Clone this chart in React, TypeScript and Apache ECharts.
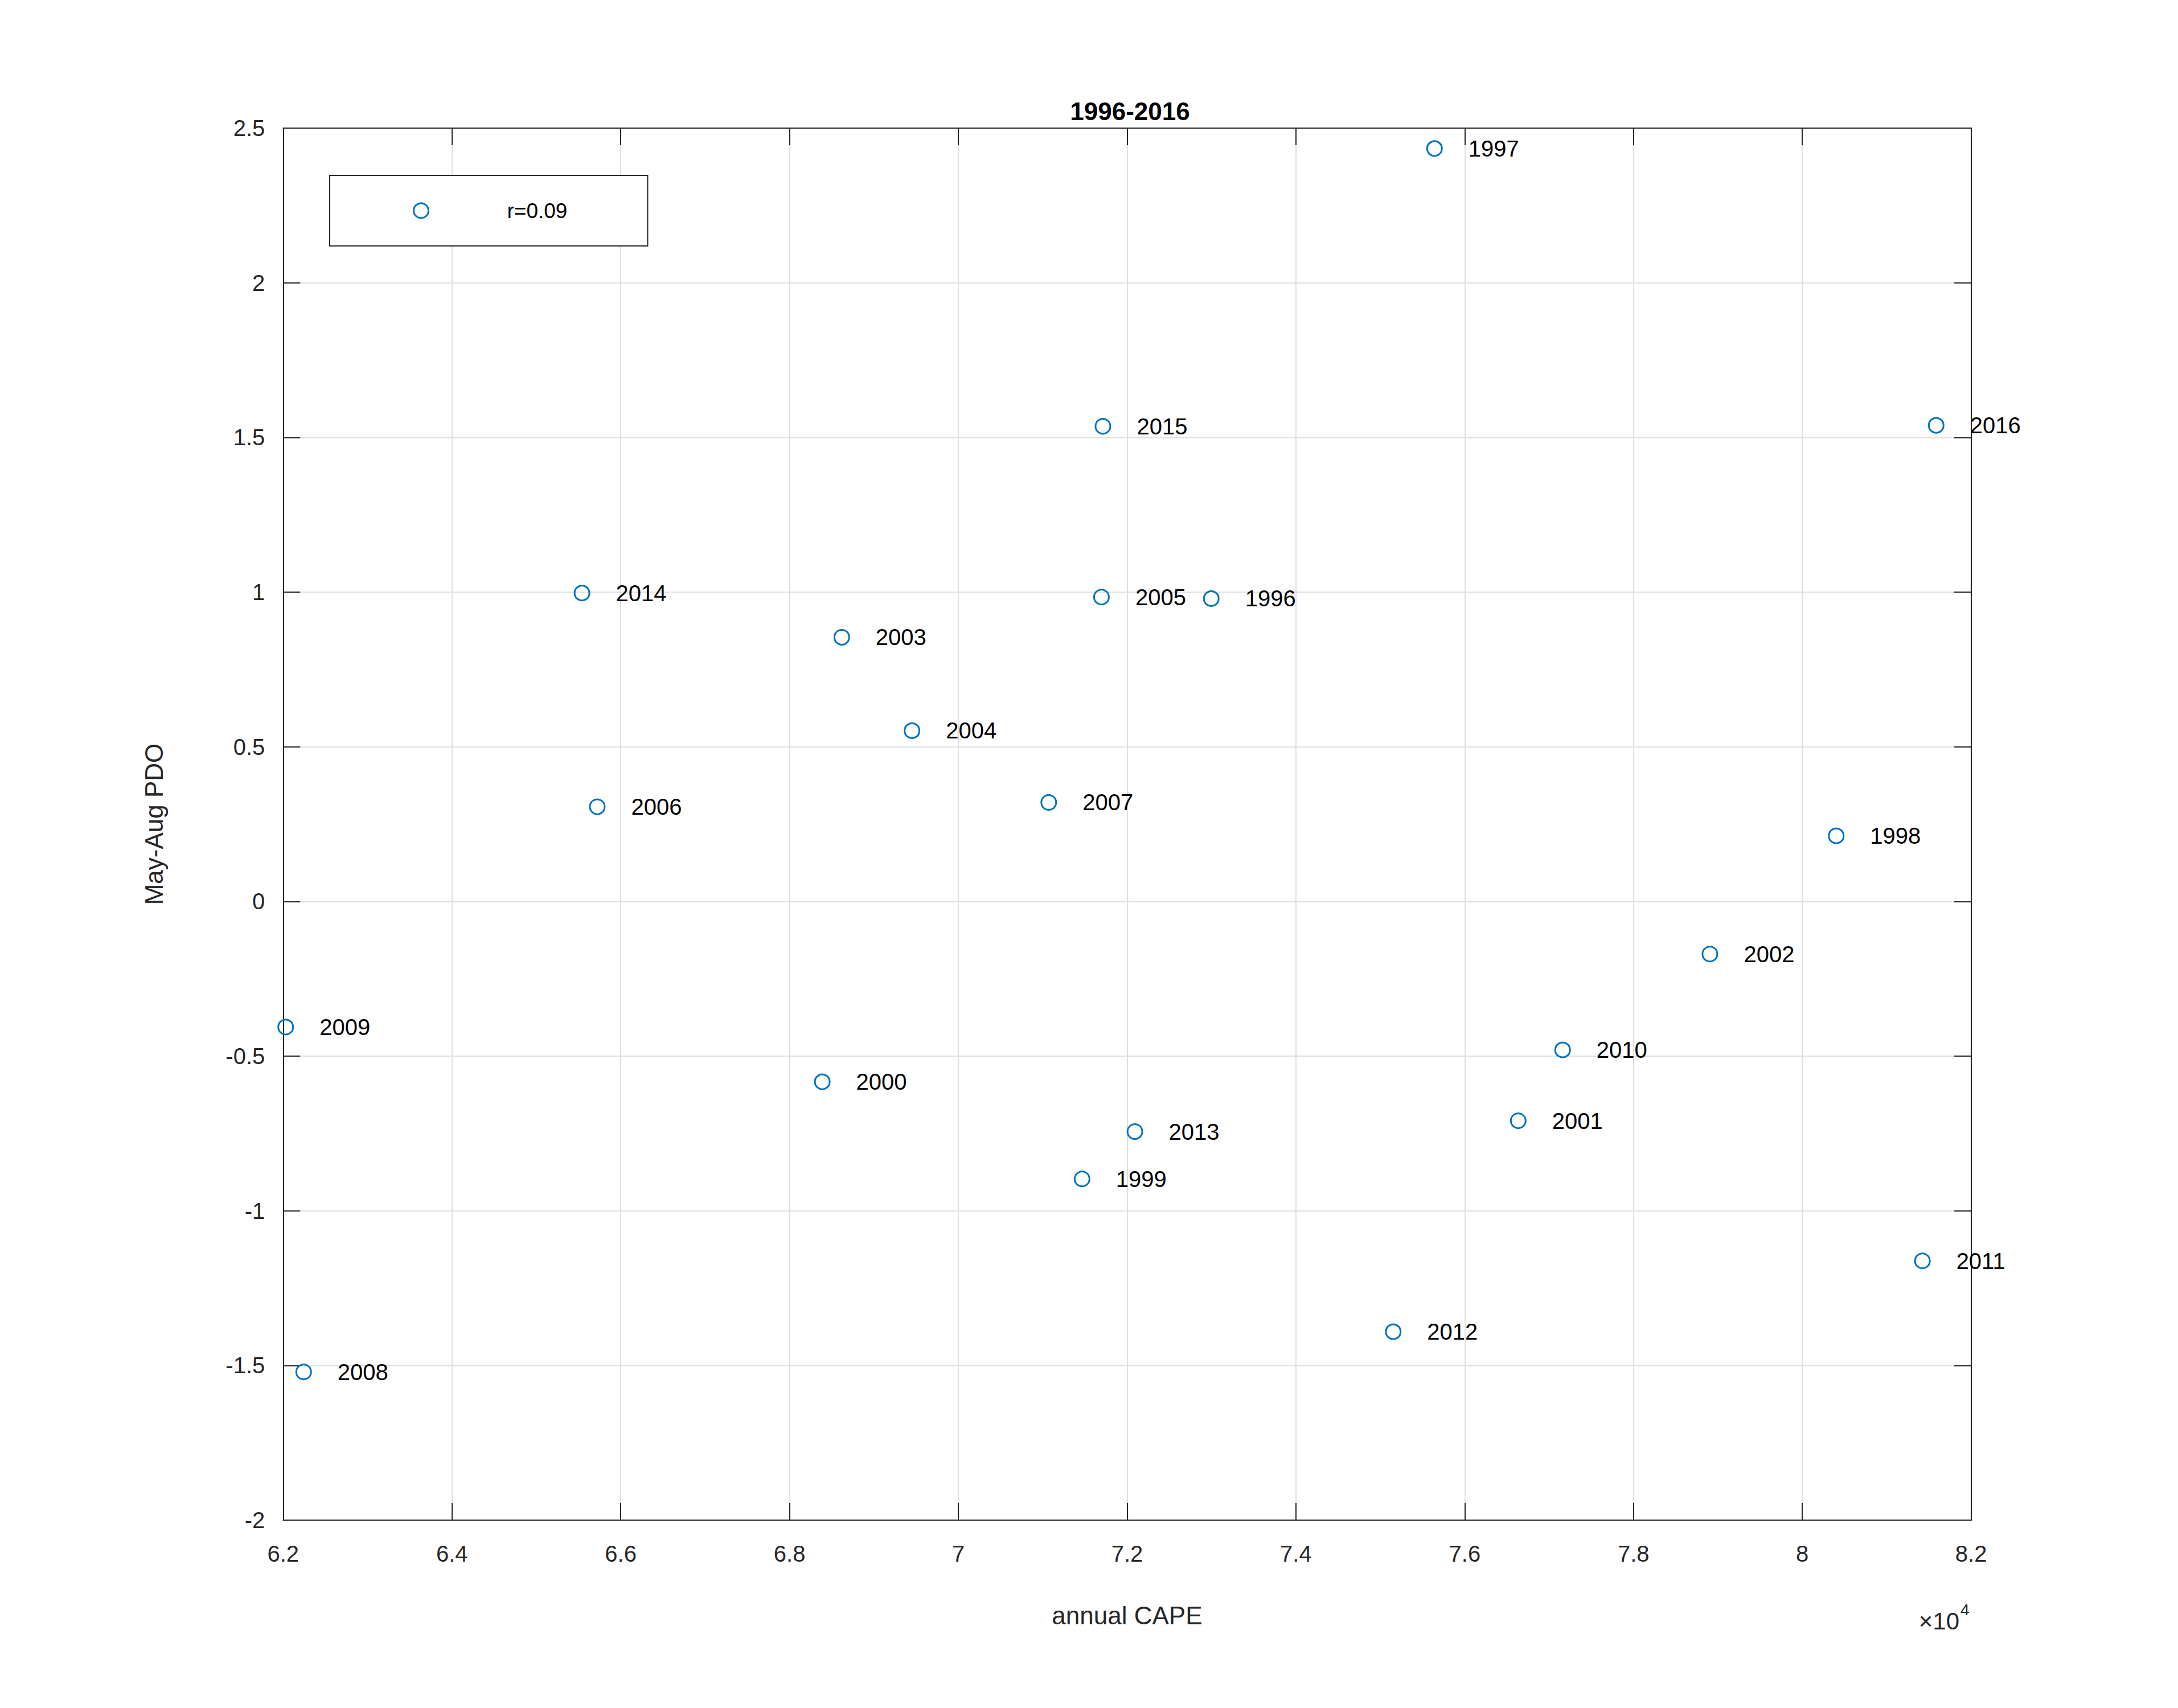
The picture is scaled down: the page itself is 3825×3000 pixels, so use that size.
import React, { useEffect, useRef } from "react";
import * as echarts from "echarts";

const years = [1996, 1997, 1998, 1999, 2000, 2001, 2002, 2003, 2004, 2005, 2006, 2007, 2008, 2009, 2010, 2011, 2012, 2013, 2014, 2015, 2016];
const cape = [72997, 75642, 80402, 71466, 68388, 76634, 78905, 68619, 69451, 71696, 65722, 71071, 62243, 62030, 77160, 81423, 75153, 72092, 65541, 71713, 81586];
const pdo = [0.979, 2.434, 0.212, -0.897, -0.583, -0.709, -0.170, 0.854, 0.552, 0.984, 0.306, 0.320, -1.521, -0.406, -0.480, -1.162, -1.391, -0.744, 0.997, 1.536, 1.539];

const seriesName = "r=0.09";
const titleText = "1996-2016";
const xName = "annual CAPE";
const yName = "May-Aug PDO";
const xMin = 62000, xMax = 82000, xStep = 2000;
const yMin = -2, yMax = 2.5, yStep = 0.5;

const FONT = "'Liberation Sans', Arial, Helvetica, sans-serif";
const AX = "#262626";
const GRID = "#dfdfdf";
const BLUE = "#0072BD";

export default function App() {
  const ref = useRef<HTMLDivElement>(null);
  useEffect(() => {
    if (!ref.current) return;
    const chart = echarts.init(ref.current, undefined, { renderer: "svg" });
    const data = years.map((y, i) => ({ name: String(y), value: [cape[i], pdo[i]] }));
    const tick = { show: true, inside: true, length: 30, lineStyle: { color: AX, width: 2 } };
    const line = { show: true, onZero: false, lineStyle: { color: AX, width: 2 } };
    chart.setOption({
      animation: false,
      backgroundColor: "#ffffff",
      textStyle: { fontFamily: FONT },
      title: {
        text: titleText,
        left: 1979.5,
        top: 168,
        textAlign: "center",
        textStyle: { fontFamily: FONT, fontSize: 44, fontWeight: "bold", color: "#000" },
      },
      grid: { left: 497.25, right: 363.35, top: 225, bottom: 330, containLabel: false, show: false },
      legend: {
        show: true,
        left: 579,
        top: 308,
        orient: "horizontal",
        data: [{ name: seriesName, icon: "circle" }],
        itemWidth: 26,
        itemHeight: 26,
        padding: [42, 141, 42, 146],
        borderColor: AX,
        borderWidth: 2,
        backgroundColor: "#fff",
        borderRadius: 0,
        itemStyle: { color: "rgba(255,255,255,0)", borderColor: BLUE, borderWidth: 3 },
        textStyle: { fontFamily: FONT, fontSize: 37, color: "#000", lineHeight: 40, padding: [0, 0, 0, 133] },
      },
      xAxis: [
        {
          type: "value",
          min: xMin,
          max: xMax,
          interval: xStep,
          position: "bottom",
          name: xName,
          nameLocation: "middle",
          nameGap: 145,
          nameTextStyle: { fontFamily: FONT, fontSize: 44, color: AX },
          axisLine: line,
          axisTick: tick,
          axisLabel: {
            margin: 39,
            fontFamily: FONT,
            fontSize: 40,
            color: AX,
            formatter: (v: number) => String(Math.round(v / 100) / 100),
          },
          splitLine: { show: true, lineStyle: { color: GRID, width: 2 } },
        },
        {
          type: "value",
          min: xMin,
          max: xMax,
          interval: xStep,
          position: "top",
          axisLine: line,
          axisTick: tick,
          axisLabel: { show: false },
          splitLine: { show: false },
        },
      ],
      yAxis: [
        {
          type: "value",
          min: yMin,
          max: yMax,
          interval: yStep,
          position: "left",
          name: yName,
          nameLocation: "middle",
          nameGap: 205,
          nameRotate: 90,
          nameTextStyle: { fontFamily: FONT, fontSize: 44, color: AX },
          axisLine: line,
          axisTick: tick,
          axisLabel: { margin: 32, fontFamily: FONT, fontSize: 40, color: AX },
          splitLine: { show: true, lineStyle: { color: GRID, width: 2 } },
        },
        {
          type: "value",
          min: yMin,
          max: yMax,
          interval: yStep,
          position: "right",
          axisLine: line,
          axisTick: tick,
          axisLabel: { show: false },
          splitLine: { show: false },
        },
      ],
      graphic: [
        {
          type: "text",
          x: 3441,
          y: 2847,
          style: { text: "×10", fontFamily: FONT, fontSize: 42, fill: AX, textAlign: "right", textVerticalAlign: "middle" },
        },
        {
          type: "text",
          x: 3443,
          y: 2827,
          style: { text: "4", fontFamily: FONT, fontSize: 28, fill: AX, textAlign: "left", textVerticalAlign: "middle" },
        },
      ],
      series: [
        {
          type: "scatter",
          name: seriesName,
          data,
          symbol: "circle",
          symbolSize: 26,
          itemStyle: { color: "rgba(255,255,255,0)", borderColor: BLUE, borderWidth: 3, opacity: 1 },
          label: {
            show: true,
            position: "right",
            distance: 45,
            offset: [0, 2],
            formatter: "{b}",
            fontFamily: FONT,
            fontSize: 40,
            color: "#000",
          },
          labelLayout: { hideOverlap: false },
          emphasis: { disabled: true },
        },
      ],
    });
    return () => chart.dispose();
  }, []);
  return (
    <div
      ref={ref}
      style={{ position: "absolute", left: 0, top: 0, width: 3825, height: 3000 }}
    />
  );
}
